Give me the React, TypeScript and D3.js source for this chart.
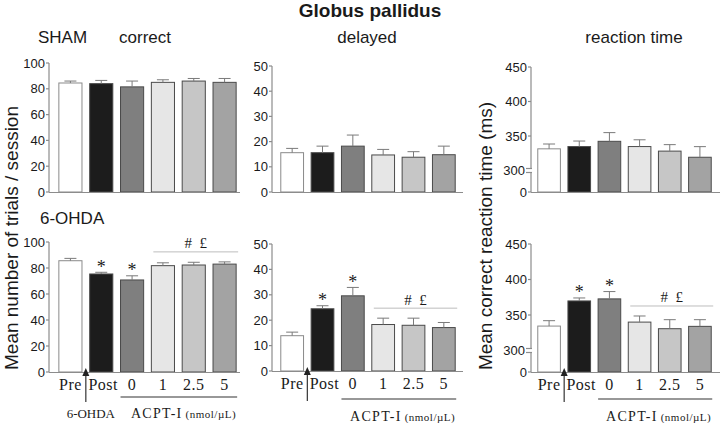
import React, { useEffect } from "react";
import * as d3 from "d3";

// groups on the x axis
const groups = ["Pre", "Post", "0", "1", "2.5", "5"];
const fills = ["#ffffff", "#1c1c1c", "#7f7f7f", "#e6e6e6", "#c6c6c6", "#a3a3a3"];

// SHAM row
const correctSham = [84.5, 84, 81.5, 85, 86, 85];
const correctShamErr = [1.5, 2.5, 4.5, 2, 2, 3];
const delayedSham = [15.6, 15.6, 18.2, 14.7, 13.8, 14.8];
const delayedShamErr = [1.7, 2.6, 4.4, 2.2, 2.2, 3.4];
const rtSham = [331.4, 334.7, 342.3, 334.7, 328.1, 319.2];
const rtShamErr = [7, 8, 12.6, 9.8, 9.4, 15.4];

// 6-OHDA row
const correctOhda = [85.6, 75.4, 70.8, 81.8, 82.3, 83];
const correctOhdaErr = [1.8, 1.3, 3.2, 2.2, 2.1, 1.7];
const delayedOhda = [13.9, 24.5, 29.6, 18.3, 18, 17.1];
const delayedOhdaErr = [1.4, 1.2, 3.3, 2.5, 2.8, 2.0];
const rtOhda = [334.4, 369.8, 372.7, 340, 330.7, 334];
const rtOhdaErr = [7.6, 4.2, 10.3, 8.6, 12.7, 9.4];

const correctTicks = [0, 20, 40, 60, 80, 100];
const delayedTicks = [0, 10, 20, 30, 40, 50];
const rtTicks = [0, 300, 350, 400, 450];

const starBars = [1, 2]; // "*" vs Pre
const hashBars = [3, 4, 5]; // "# £"

const SANS = "'Liberation Sans', Arial, sans-serif";
const SERIF = "'Liberation Serif', 'Times New Roman', serif";
const AXIS = "#8c8c8c";
const INK = "#1a1a1a";

// column geometry: y-axis x, band range, end of x axis
const cols = [
  { axisX: 49, x0: 55, x1: 240, xEnd: 240, ulY: 397 },
  { axisX: 272, x0: 277, x1: 459, xEnd: 463, ulY: 399 },
  { axisX: 531, x0: 534, x1: 715, xEnd: 720, ulY: 399 },
];
// row geometry per column: [y0, yTop]
const rowsGeo = [
  [[192, 63], [192, 66], [192, 67]],
  [[372, 242], [371, 244], [372, 244]],
];

type PanelProps = {
  col: number;
  row: number;
  values: number[];
  errs: number[];
  ticks: number[];
  kind: "lin" | "rt";
};

function Panel({ col, row, values, errs, ticks, kind }: PanelProps) {
  const c = cols[col];
  const [y0, yTop] = rowsGeo[row][col];
  const x = d3
    .scaleBand<string>()
    .domain(groups)
    .range([c.x0, c.x1])
    .paddingInner(0.25)
    .paddingOuter(0.125);
  const maxV = ticks[ticks.length - 1];
  const y =
    kind === "rt"
      ? d3.scaleLinear().domain([0, 300, maxV]).range([y0, y0 - 21.5, yTop])
      : d3.scaleLinear().domain([0, maxV]).range([y0, yTop]);
  const bw = x.bandwidth();
  const y300 = y(300);

  const data = groups.map((g, i) => ({ g, v: values[i], e: errs[i], i }));

  // significance annotations (OHDA row only)
  let annot = null;
  if (row === 1) {
    const capMin = d3.min(hashBars, (i) => y(values[i] + errs[i])) as number;
    const lineY = capMin - 10;
    const lx0 = (x(groups[hashBars[0]]) as number) + 2;
    const lx1 = (x(groups[hashBars[hashBars.length - 1]]) as number) + bw + 2;
    annot = (
      <g>
        {starBars.map((i) => (
          <text
            key={i}
            x={(x(groups[i]) as number) + bw / 2}
            y={y(values[i] + errs[i]) + 0.5}
            textAnchor="middle"
            fontFamily={SERIF}
            fontSize={18}
            fill={INK}
          >
            *
          </text>
        ))}
        <line x1={lx0} x2={lx1} y1={lineY} y2={lineY} stroke="#bdbdbd" strokeWidth={1} />
        <text
          x={(lx0 + lx1) / 2}
          y={lineY - 3.5}
          textAnchor="middle"
          fontFamily={SERIF}
          fontSize={15}
          fill={INK}
          style={{ whiteSpace: "pre" }}
        >
          {"#  £"}
        </text>
      </g>
    );
  }

  return (
    <g>
      {/* bars */}
      {data.map((d) => (
        <rect
          key={d.g}
          x={x(d.g)}
          y={y(d.v)}
          width={bw}
          height={y0 - y(d.v)}
          fill={fills[d.i]}
          stroke={d.i === 0 ? "#8a8a8a" : "#4a4a4a"}
          strokeWidth={1}
        />
      ))}
      {/* error bars (upper half) */}
      {data.map((d) => {
        const cx = (x(d.g) as number) + bw / 2;
        const top = y(d.v + d.e);
        return (
          <g key={"e" + d.g} stroke="#7a7a7a" strokeWidth={1}>
            <line x1={cx} x2={cx} y1={y(d.v)} y2={top} />
            <line x1={cx - 6} x2={cx + 6} y1={top} y2={top} />
          </g>
        );
      })}
      {/* x axis */}
      <line x1={c.axisX} x2={c.xEnd} y1={y0 + 0.5} y2={y0 + 0.5} stroke={AXIS} strokeWidth={1.2} />
      {/* y axis */}
      {kind === "rt" ? (
        <g stroke={AXIS} strokeWidth={1.2}>
          <line x1={c.axisX} x2={c.axisX} y1={y0} y2={y300 + 2} />
          <line x1={c.axisX} x2={c.axisX} y1={y300 - 2} y2={yTop} />
          <line x1={c.axisX - 5} x2={c.axisX + 1} y1={y300 - 2} y2={y300 - 2} />
          <line x1={c.axisX - 5} x2={c.axisX + 1} y1={y300 + 2} y2={y300 + 2} />
        </g>
      ) : (
        <line x1={c.axisX} x2={c.axisX} y1={y0} y2={yTop} stroke={AXIS} strokeWidth={1.2} />
      )}
      {ticks.map((t) => (
        <g key={t}>
          {!(kind === "rt" && t === 300) && (
            <line x1={c.axisX - 3} x2={c.axisX} y1={y(t)} y2={y(t)} stroke={AXIS} strokeWidth={1.2} />
          )}
          <text
            x={c.axisX - (kind === "rt" && t === 300 ? 6 : 4)}
            y={y(t)}
            dy="0.35em"
            textAnchor="end"
            fontFamily={SANS}
            fontSize={13}
            fill={INK}
          >
            {t}
          </text>
        </g>
      ))}
      {annot}
    </g>
  );
}

function BottomLabels({ col }: { col: number }) {
  const c = cols[col];
  const [y0] = rowsGeo[1][col];
  const x = d3
    .scaleBand<string>()
    .domain(groups)
    .range([c.x0, c.x1])
    .paddingInner(0.25)
    .paddingOuter(0.125);
  const bw = x.bandwidth();
  const arrowX = ((x("Pre") as number) + bw + (x("Post") as number)) / 2;
  const ulX0 = x("0") as number;
  const ulX1 = (x("5") as number) + bw + 1;
  const textY = col === 0 ? 418 : 421;
  return (
    <g>
      {groups.map((g) => (
        <text
          key={g}
          x={(x(g) as number) + bw / 2 + (g === "Post" ? 2 : 0)}
          y={y0 + 18}
          textAnchor="middle"
          fontFamily={SERIF}
          fontSize={16}
          letterSpacing={0.5}
          fill={INK}
        >
          {g}
        </text>
      ))}
      <line x1={arrowX} x2={arrowX} y1={y0 + 2} y2={y0 + 30} stroke="#333" strokeWidth={1.2} />
      <path
        d={`M${arrowX},${y0 - 4} L${arrowX - 3.5},${y0 + 4} L${arrowX + 3.5},${y0 + 4} Z`}
        fill="#222"
      />
      <line x1={ulX0} x2={ulX1} y1={c.ulY} y2={c.ulY} stroke="#333" strokeWidth={1.2} />
      {col === 0 && (
        <text x={arrowX + 5} y={textY} textAnchor="middle" fontFamily={SERIF} fontSize={13} fill={INK}>
          6-OHDA
        </text>
      )}
      <text x={ulX1 - 1} y={textY} textAnchor="end" fontFamily={SERIF} fill={INK}>
        <tspan fontSize={14} letterSpacing={1.3}>ACPT-I</tspan>
        <tspan fontSize={11} letterSpacing={0.5} dx={3}>(nmol/µL)</tspan>
      </text>
    </g>
  );
}

export default function App() {
  useEffect(() => {
    document.body.style.margin = "0";
  }, []);

  return (
    <svg width={720} height={423} style={{ display: "block", background: "#fff" }}>
      {/* titles */}
      <text x={370} y={17} textAnchor="middle" fontFamily={SANS} fontWeight="bold" fontSize={19} fill={INK}>
        Globus pallidus
      </text>
      <text x={38} y={43} fontFamily={SANS} fontSize={17} fill={INK}>SHAM</text>
      <text x={145} y={43} textAnchor="middle" fontFamily={SANS} fontSize={17} fill={INK}>correct</text>
      <text x={367} y={43} textAnchor="middle" fontFamily={SANS} fontSize={17} fill={INK}>delayed</text>
      <text x={634} y={43} textAnchor="middle" fontFamily={SANS} fontSize={17} fill={INK}>reaction time</text>
      <text x={40} y={224} fontFamily={SANS} fontSize={17} fill={INK}>6-OHDA</text>

      {/* y titles */}
      <text
        transform="translate(17.5,238) rotate(-90)"
        textAnchor="middle"
        fontFamily={SANS}
        fontSize={19}
        fill={INK}
      >
        Mean number of trials / session
      </text>
      <text
        transform="translate(492,236) rotate(-90)"
        textAnchor="middle"
        fontFamily={SANS}
        fontSize={19}
        fill={INK}
      >
        Mean correct reaction time (ms)
      </text>

      <Panel col={0} row={0} values={correctSham} errs={correctShamErr} ticks={correctTicks} kind="lin" />
      <Panel col={1} row={0} values={delayedSham} errs={delayedShamErr} ticks={delayedTicks} kind="lin" />
      <Panel col={2} row={0} values={rtSham} errs={rtShamErr} ticks={rtTicks} kind="rt" />
      <Panel col={0} row={1} values={correctOhda} errs={correctOhdaErr} ticks={correctTicks} kind="lin" />
      <Panel col={1} row={1} values={delayedOhda} errs={delayedOhdaErr} ticks={delayedTicks} kind="lin" />
      <Panel col={2} row={1} values={rtOhda} errs={rtOhdaErr} ticks={rtTicks} kind="rt" />

      <BottomLabels col={0} />
      <BottomLabels col={1} />
      <BottomLabels col={2} />
    </svg>
  );
}
